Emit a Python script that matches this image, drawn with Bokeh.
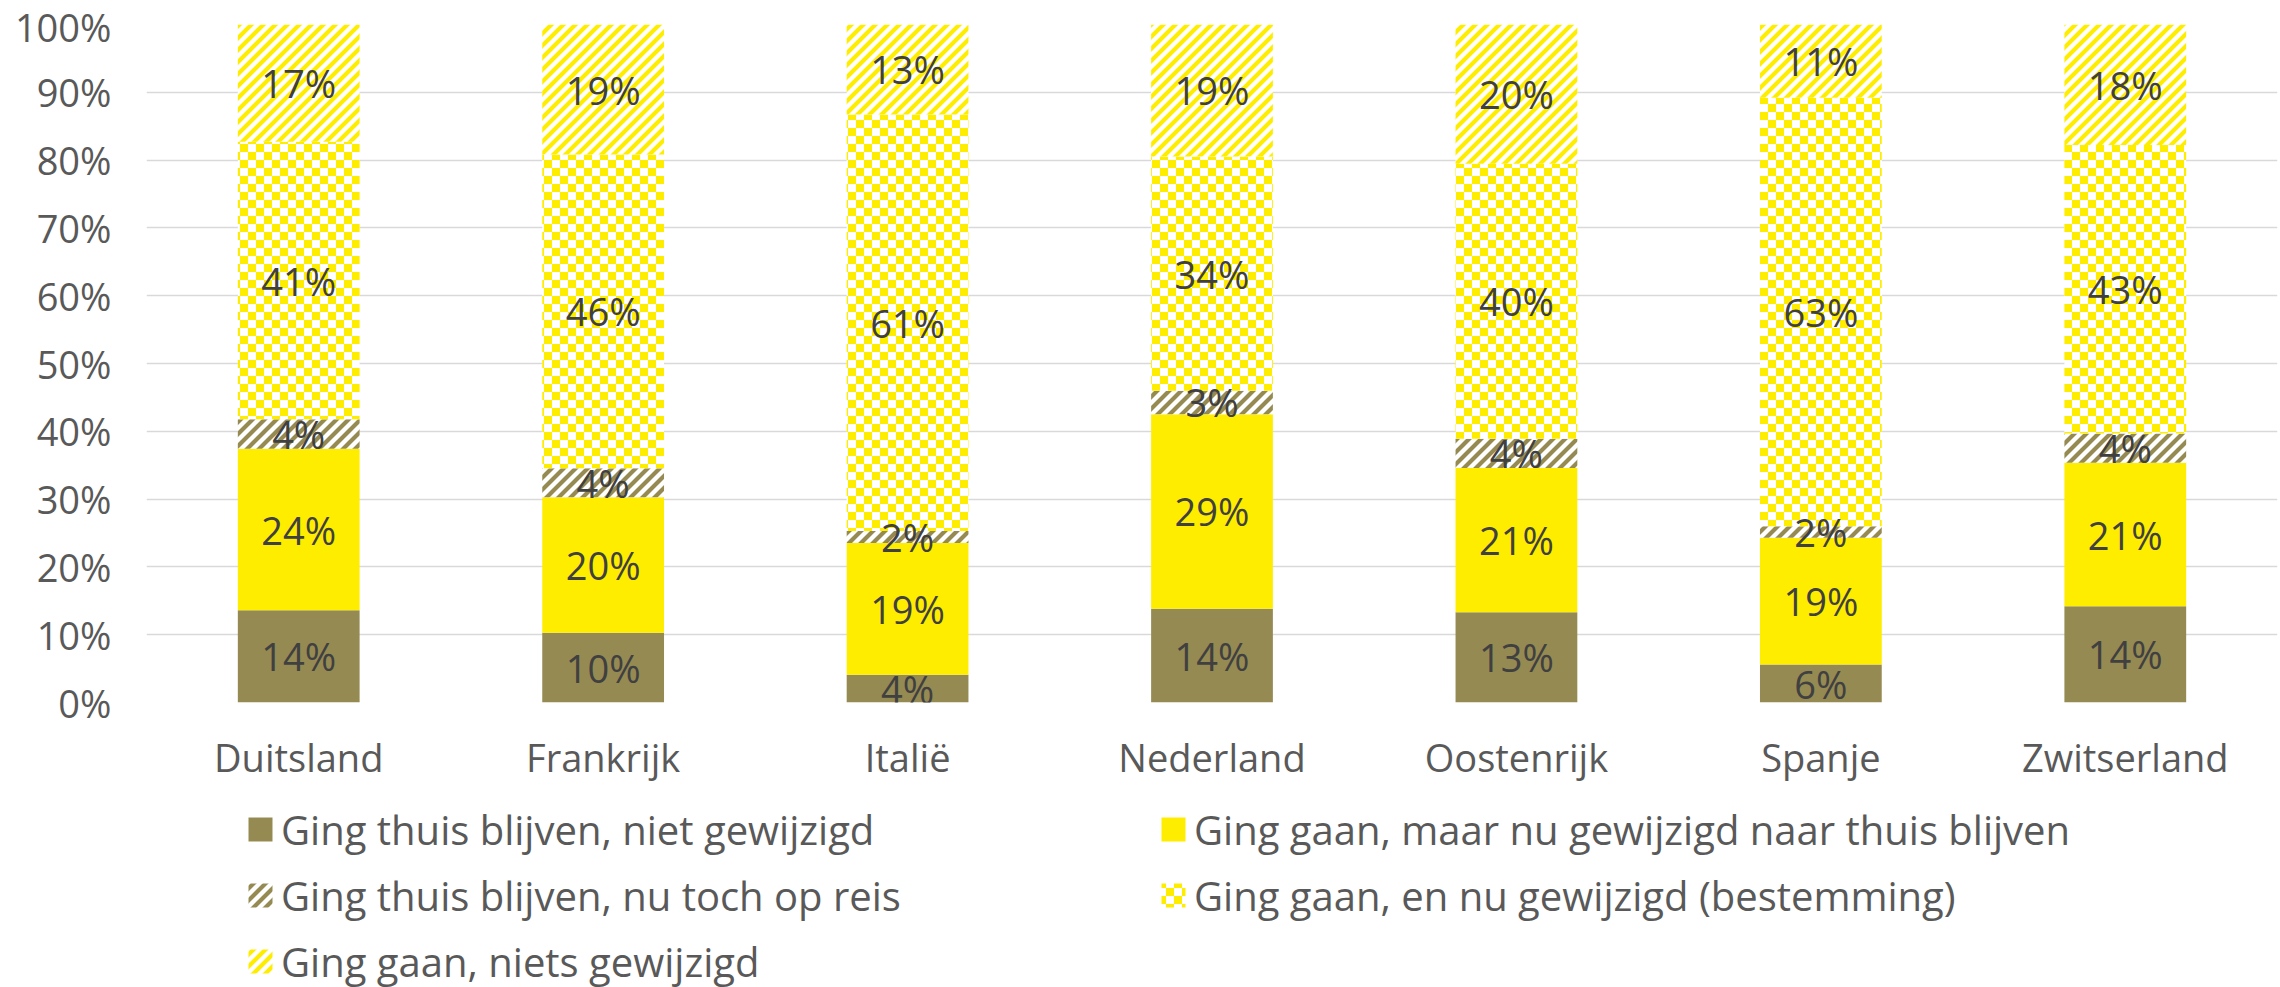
from bokeh.plotting import figure
from bokeh.layouts import column
from bokeh.models import (ColumnDataSource, FactorRange, Range1d, Legend, LegendItem,
                          NumeralTickFormatter, FixedTicker, CanvasTexture)
from bokeh.core.properties import value
from bokeh.embed import file_html
from bokeh.resources import INLINE

countries = ["Duitsland", "Frankrijk", "Italië", "Nederland", "Oostenrijk", "Spanje", "Zwitserland"]
series_names = [
    "Ging thuis blijven, niet gewijzigd",
    "Ging gaan, maar nu gewijzigd naar thuis blijven",
    "Ging thuis blijven, nu toch op reis",
    "Ging gaan, en nu gewijzigd (bestemming)",
    "Ging gaan, niets gewijzigd",
]
thuis_niet_gewijzigd = [13.6, 10.3, 4.1, 13.8, 13.25, 5.6, 14.2]
gaan_naar_thuis = [23.8, 20.0, 19.4, 28.6, 21.2, 18.7, 21.2]
thuis_toch_op_reis = [4.35, 4.3, 1.8, 3.45, 4.3, 1.7, 4.3]
gaan_bestemming = [40.9, 46.3, 61.4, 34.45, 40.45, 63.2, 42.6]
gaan_niets_gewijzigd = [17.3, 19.2, 13.25, 19.4, 20.45, 10.8, 17.8]
y_ticks = [0.0, 0.1, 0.2, 0.3, 0.4, 0.5, 0.6, 0.7, 0.8, 0.9, 1.0]

OLIVE = "#968A53"
YELLOW = "#FFED00"
FONT = "Open Sans"
FS = "38px"
LEGEND_FS = "40px"

series = [thuis_niet_gewijzigd, gaan_naar_thuis, thuis_toch_op_reis, gaan_bestemming, gaan_niets_gewijzigd]
n = len(countries)
totals = [sum(s[i] for s in series) for i in range(n)]
data = {"country": countries}
bottom = [0.0] * n
for k, s in enumerate(series):
    share = [v / t for v, t in zip(s, totals)]
    top = [b + sh for b, sh in zip(bottom, share)]
    data[f"b{k}"] = bottom
    data[f"t{k}"] = top
    data[f"m{k}"] = [(b + t) / 2 for b, t in zip(bottom, top)]
    data[f"l{k}"] = [f"{v:.0f}%" for v in s]
    bottom = top
source = ColumnDataSource(data)

MAIN_H = 790
p = figure(x_range=FactorRange(*countries), y_range=Range1d(0, 1),
           width=2280, height=MAIN_H, output_backend="svg", toolbar_location=None,
           min_border_left=146, min_border_right=3, min_border_top=24, min_border_bottom=MAIN_H - 702)
p.outline_line_color = None
p.xgrid.grid_line_color = None
p.ygrid.grid_line_color = "#D9D9D9"
p.ygrid.grid_line_width = 1.5
p.yaxis.ticker = FixedTicker(ticks=y_ticks)
p.yaxis.formatter = NumeralTickFormatter(format="0%")
for ax in (p.xaxis[0], p.yaxis[0]):
    ax.axis_line_color = None
    ax.major_tick_line_color = None
    ax.minor_tick_line_color = None
    ax.major_tick_out = 0
    ax.major_tick_in = 0
    ax.major_label_text_font = FONT
    ax.major_label_text_font_size = FS
    ax.major_label_text_color = "#595959"
p.yaxis.major_label_standoff = 35
p.xaxis.major_label_standoff = 28


def checker_texture(col):
    return CanvasTexture(code=f"""
const c = ctx.canvas;
c.width = 16;
c.height = 16;
ctx.clearRect(0, 0, 16, 16);
ctx.fillStyle = "{col}";
ctx.fillRect(0, 0, 8, 8);
ctx.fillRect(8, 8, 8, 8);
""")


def stripe_texture(col):
    return CanvasTexture(code=f"""
const c = ctx.canvas;
c.width = 12;
c.height = 12;
ctx.clearRect(0, 0, 12, 12);
ctx.strokeStyle = "{col}";
ctx.lineWidth = 4.2;
ctx.beginPath();
ctx.moveTo(-6, 6); ctx.lineTo(6, -6);
ctx.moveTo(-3, 15); ctx.lineTo(15, -3);
ctx.moveTo(6, 18); ctx.lineTo(18, 6);
ctx.stroke();
""")


def style(k):
    return [
        dict(fill_color=OLIVE),
        dict(fill_color=YELLOW),
        dict(fill_color="white", hatch_pattern=value("stripe_olive"),
             hatch_extra={"stripe_olive": stripe_texture(OLIVE)}, hatch_color=OLIVE, hatch_scale=12),
        dict(fill_color="white", hatch_pattern=value("checker"),
             hatch_extra={"checker": checker_texture(YELLOW)}, hatch_color=YELLOW, hatch_scale=16),
        dict(fill_color="white", hatch_pattern=value("stripe_yellow"),
             hatch_extra={"stripe_yellow": stripe_texture(YELLOW)}, hatch_color=YELLOW, hatch_scale=12),
    ][k]


for k in range(len(series)):
    p.vbar(x="country", bottom=f"b{k}", top=f"t{k}", width=0.4, source=source,
           line_color=None, **style(k))
for k in range(len(series)):
    p.text(x="country", y=f"m{k}", text=f"l{k}", source=source, text_align="center",
           text_baseline="middle", text_font=value(FONT), text_font_size=FS, text_color="#404040")

# legend panel below the chart (its frame is aligned with the chart's frame: left edge at x=146)
LEG_H = 987 - MAIN_H
FRAME_LEFT = 146
pl = figure(x_range=Range1d(0, 1), y_range=Range1d(0, 1), width=2280, height=LEG_H,
            output_backend="svg", toolbar_location=None, min_border=0,
            x_axis_location=None, y_axis_location=None)
pl.outline_line_color = None
pl.grid.visible = False
dummy = ColumnDataSource(dict(x=[0.0], b=[0.0], t=[0.0]))
legend_renderers = [pl.vbar(x="x", bottom="b", top="t", width=0.0, source=dummy,
                            line_color=None, **style(k)) for k in range(len(series))]


def make_legend(idx, left, top_local):
    h = 66 * len(idx)
    leg = Legend(items=[LegendItem(label=series_names[i], renderers=[legend_renderers[i]], index=0)
                        for i in idx],
                 location=(left - FRAME_LEFT, LEG_H - top_local - h), orientation="vertical")
    leg.label_text_font = FONT
    leg.label_text_font_size = LEGEND_FS
    leg.label_text_color = "#595959"
    leg.glyph_width = 30
    leg.glyph_height = 30
    leg.label_height = 66
    leg.spacing = 0
    leg.padding = 0
    leg.margin = 0
    leg.label_standoff = 6
    leg.border_line_color = None
    leg.background_fill_alpha = 0
    return leg


top_local = 829 - 33 - MAIN_H
pl.add_layout(make_legend([0, 2, 4], 245, top_local))
pl.add_layout(make_legend([1, 3], 1158, top_local))

layout = column(p, pl, spacing=0)
open("out.html", "w").write(file_html(layout, INLINE))
